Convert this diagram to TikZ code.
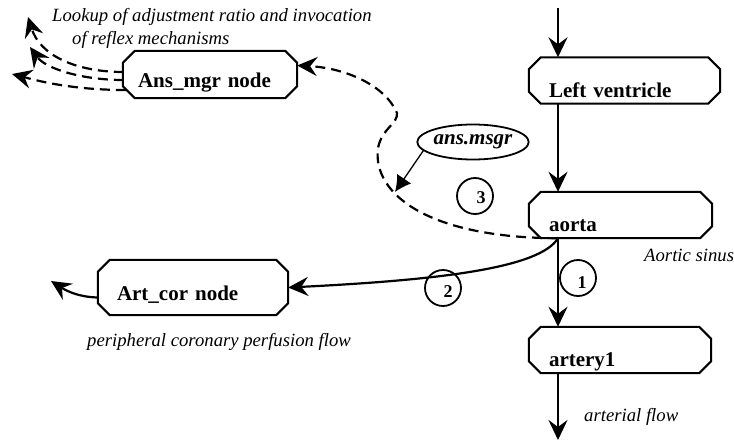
\documentclass[tikz,border=0pt]{standalone}
\usepackage{fontspec}
\setmainfont{Liberation Serif}
\usepackage{tikz}
\usetikzlibrary{arrows.meta, shapes.geometric, calc}

\begin{document}
\begin{tikzpicture}[x=1pt, y=-1pt,
    >={Stealth[length=20pt, width=19pt, inset=7pt]},
    box/.style={rectangle, align=left, inner ysep=0pt, text depth=0pt,
        font=\fontsize{21}{25}\selectfont\bfseries},
    flowbox/.style={box, inner xsep=20pt, minimum height=46pt, text height=33pt},
    sidebox/.style={box, text height=25pt},
    boxline/.style={line width=2pt, line join=miter},
    flow/.style={->, line width=2.2pt},
    signal/.style={flow, dash pattern=on 10pt off 6pt},
    note/.style={font=\fontsize{18.7}{22}\selectfont\itshape, inner sep=0pt, anchor=base west},
    marker/.style={circle, draw, line width=1.8pt, minimum size=36pt, inner sep=0pt},
    marktxt/.style={font=\fontsize{18}{20}\selectfont\bfseries, inner sep=0pt}
]

    % =================================================================
    % 1. KHUNG HINH VA CAC DIEM MUT
    % =================================================================
    \useasboundingbox (0,0) rectangle (734,442);
    \coordinate (inflow) at (558,8);
    \coordinate (outflow) at (558,440);

    % =================================================================
    % 2. CAC KHOI CHINH (HINH BAT GIAC)
    % =================================================================
    \node[flowbox, text width=151pt] (lv) at (624.5,80.5) {Left ventricle};
    \node[flowbox, text width=143pt] (aorta) at (620.5,215) {aorta};
    \node[flowbox, text width=142pt] (artery) at (620,350) {artery1};
    \node[sidebox, inner xsep=15pt, text width=144pt, minimum height=47pt] (ansmgr) at (210,74.5) {Ans\_mgr node};
    \node[sidebox, inner xsep=19pt, text width=152pt, minimum height=55pt] (artcor) at (193,287.5) {Art\_cor node};

    % Vien bat giac (cat goc 12pt) quanh moi khoi
    \foreach \b in {lv, aorta, artery, ansmgr, artcor} {
        \draw[boxline] ([xshift=12pt]\b.north west) -- ([xshift=-12pt]\b.north east)
            -- ([yshift=-12pt]\b.north east) -- ([yshift=12pt]\b.south east)
            -- ([xshift=-12pt]\b.south east) -- ([xshift=12pt]\b.south west)
            -- ([yshift=12pt]\b.south west) -- ([yshift=-12pt]\b.north west) -- cycle;
    }

    % Nut thong diep hinh elip
    \node[ellipse, draw, line width=1.8pt, minimum width=92pt, minimum height=35pt,
        inner sep=0pt, font=\fontsize{21}{25}\selectfont\bfseries\itshape] (msgr) at (473,142) {ans.msgr};

    % =================================================================
    % 3. DONG CHAY DOC THEO TRUC x = 558
    % =================================================================
    \coordinate (aoout) at (inflow |- aorta.south);
    \draw[flow] (inflow) -- (inflow |- lv.north);
    \draw[flow] (inflow |- lv.south) -- (inflow |- aorta.north);
    \draw[flow] (aoout) -- (inflow |- artery.north);
    \draw[flow] (inflow |- artery.south) -- (outflow);

    % =================================================================
    % 4. NHANH VANH (Art_cor) VA TIN HIEU (Ans_mgr)
    % =================================================================
    \draw[flow] (aoout) .. controls (540,268) and (440,280) .. (artcor.east);
    \coordinate (artout) at (51,281);
    \draw[flow] ([yshift=-10pt]artcor.west) .. controls (75,297) and (62,288) .. (artout);

    \draw[signal] (aoout) .. controls (430,238) and (372,195) .. (378,148)
        .. controls (382,128) and (398,124) .. (397,113)
        .. controls (385,85) and (345,68) .. ([yshift=9pt]ansmgr.east);

    \coordinate (msgrhit) at (395,192);
    \draw[-{Latex[length=16pt, width=17pt]}, line width=1.3pt] (msgr.190) -- (msgrhit);

    % Ba mui ten phan xa ra ngoai
    \coordinate (reflexA) at (28,17);
    \coordinate (reflexB) at (30,47);
    \coordinate (reflexC) at (12,74);
    \draw[signal] ([xshift=1pt, yshift=2.5pt]ansmgr.west) .. controls (75,72) and (40,55) .. (reflexA);
    \draw[signal] ([xshift=1pt, yshift=-5.5pt]ansmgr.west) .. controls (80,80) and (45,68) .. (reflexB);
    \draw[signal] ([xshift=3pt, yshift=-15.5pt]ansmgr.west) .. controls (70,90) and (35,80) .. (reflexC);

    % =================================================================
    % 5. VONG TRON DANH SO VA CHU THICH
    % =================================================================
    \node[marker, label={[marktxt, xshift=4pt, yshift=-5pt]center:1}] (m1) at (578,278) {};
    \node[marker, label={[marktxt, xshift=5pt, yshift=-4pt]center:2}] (m2) at (443,288) {};
    \node[marker, label={[marktxt, xshift=6pt, yshift=-2pt]center:3}] (m3) at (475,196) {};

    \node[note] (lookupA) at (52,21) {Lookup of adjustment ratio and invocation};
    \node[note] (lookupB) at (72,44) {of reflex mechanisms};
    \node[note] (sinus) at (644,261) {Aortic sinus};
    \node[note] (perfusion) at (87,346) {peripheral coronary perfusion flow};
    \node[note] (arterial) at (584,421) {arterial flow};

\end{tikzpicture}
\end{document}
